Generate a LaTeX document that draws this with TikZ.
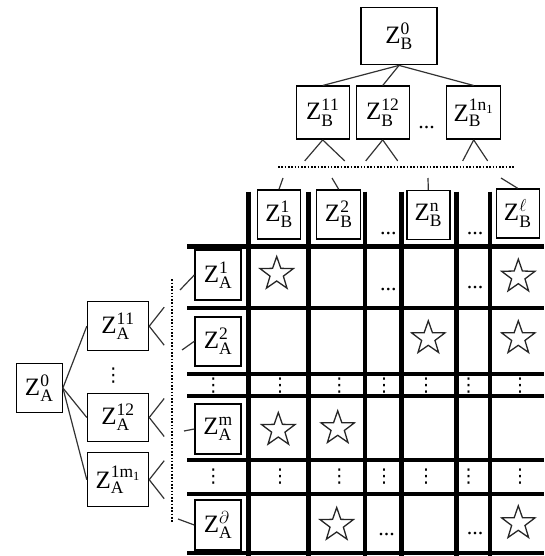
\documentclass[tikz,border=0pt]{standalone}
\usepackage{fontspec}
\setmainfont{Liberation Serif}
\newfontfamily\djv{DejaVu Sans}
\usetikzlibrary{calc,shapes.geometric}
\newcommand{\vdt}{{\djv ⋮}}
\newcommand{\zz}[2]{$\mathrm{Z}^{\mathrm{#1}}_{\mathrm{#2}}$}
\tikzset{
  zbox/.style={draw,line width=1.4pt,inner sep=0pt,minimum width=46pt,minimum height=49pt,
    font=\fontsize{25}{28}\selectfont},
  br/.style={line width=1.2pt,black!80},
  gline/.style={line width=4.5pt},                          % thick table rule
  dln/.style={line width=2pt,dash pattern=on 1.6pt off 1.7pt},
  strn/.style={star,star points=5,star point ratio=2.5,draw,line width=1.3pt,black!85,
    minimum size=35pt,inner sep=0pt},                        % marked cell
  hdt/.style={inner sep=0pt,font=\fontsize{22}{22}\selectfont},
  vdots/.style={inner sep=0pt,font=\fontsize{19}{19}\selectfont},
}

\begin{document}
\begin{tikzpicture}[x=1pt,y=-1pt]
  \useasboundingbox (0,0) rectangle (544,556);
  % ---- table rules ----
  \foreach \x in {248.3,308.3,365,401.7,456.7,490}{
    \draw[gline] (\x,191.7) -- (\x,556);}
  \foreach \y in {246.7,308,374,396,460,494,553}{
    \draw[gline] (187.3,\y) -- (544,\y);}
  % ---- hierarchy of B ----
  \node[zbox,minimum width=76pt,minimum height=57pt] (zb0) at (399,36.2) {\zz{0}{B}};
  \node[zbox,minimum width=53pt,minimum height=53pt] (zb11) at (322.7,112.7) {\zz{11}{B}};
  \node[zbox,minimum width=53pt,minimum height=53pt] (zb12) at (382.7,112.7) {\zz{12}{B}};
  \node[zbox,minimum width=54pt,minimum height=53pt] (zb1n) at (473.7,112.7) {\zz{1n_1}{B}};
  \node[hdt] (bdt) at (426.7,128) {...};
  \foreach \n in {zb11,zb12,zb1n}{
    \draw[br] (zb0.south) -- (\n.north);}
  \foreach \n/\a/\b in {zb11/-18/22,zb12/-17/15,zb1n/-11/14}{
    \coordinate (\n-l) at ($(\n.south)+(\a,21)$);
    \coordinate (\n-r) at ($(\n.south)+(\b,21)$);
    \draw[br] (\n.south) -- (\n-l);
    \draw[br] (\n.south) -- (\n-r);}
  \coordinate (dl) at (278,166.7);
  \coordinate (dr) at (515,166.7);
  \draw[dln] (dl) -- (dr);
  % column heads
  \node[zbox,minimum width=43pt] (zb1) at (279,214.5) {\zz{1}{B}};
  \node[zbox,minimum width=44pt] (zb2) at (338.7,214.5) {\zz{2}{B}};
  \node[zbox,minimum width=43pt] (zbn) at (428.3,215.2) {\zz{n}{B}};
  \node[zbox,minimum width=43pt] (zbl) at (517.7,213.5) {$\mathrm{Z}^{\ell}_{\mathrm{B}}$};
  \foreach \n/\x in {zb1/283,zb2/332,zbn/428,zbl/501}{
    \coordinate (\n-t) at (\x,178);
    \draw[br] (\n-t) -- (\n.north);}
  % ---- hierarchy of A ----
  \node[zbox] (za0) at (39.2,388) {\zz{0}{A}};
  \node[zbox,minimum width=61pt] (za11) at (118,326.2) {\zz{11}{A}};
  \node[zbox,minimum width=61pt,minimum height=48pt] (za12) at (118,417.5) {\zz{12}{A}};
  \node[zbox,minimum width=61pt,minimum height=54pt] (za1m) at (118,479.7) {\zz{1m_1}{A}};
  \node[vdots] (adt) at (113.3,376) {\vdt};
  \foreach \n in {za11,za12,za1m}{
    \draw[br] (za0.east) -- (\n.west);
    \coordinate (\n-u) at ($(\n.east)+(15,-19)$);
    \coordinate (\n-d) at ($(\n.east)+(15,19)$);
    \draw[br] (\n.east) -- (\n-u);
    \draw[br] (\n.east) -- (\n-d);}
  \coordinate (dt) at (172,279.3);
  \coordinate (db) at (172,523.3);
  \draw[dln] (dt) -- (db);
  % row heads
  \node[zbox,minimum height=50pt] (za1) at (218,275) {\zz{1}{A}};
  \node[zbox] (za2) at (218,341.3) {\zz{2}{A}};
  \node[zbox,minimum height=50pt] (zam) at (218,429) {\zz{m}{A}};
  \node[zbox,minimum height=50pt] (zad) at (218,525) {$\mathrm{Z}^{\partial}_{\mathrm{A}}$};
  \foreach \n/\x/\y in {za1/180/290,za2/182/350,zam/184/431,zad/178/519}{
    \coordinate (\n-s) at (\x,\y);
    \draw[br] (\n-s) -- (\n.west);}
  % ---- cells ----
  \foreach \x/\y [count=\i] in {276.7/274,518.3/276.7,428.3/338.3,518.3/338.3,
      278.3/430,337.7/428.3,336.7/525,518.3/523.3}{
    \node[strn] (s\i) at (\x,\y) {};}
  \foreach \x/\y [count=\i] in {388.3/233.3,475/233.3,388.3/290,475/288,386.7/535,475/533.3}{
    \node[hdt] (h\i) at (\x,\y) {...};}
  \foreach \y [count=\j] in {386,477}{
    \foreach \x [count=\i] in {213.3,280,339.3,384,426,468.7,520}{
      \node[vdots] (v\j-\i) at (\x,\y) {\vdt};}}
\end{tikzpicture}
\end{document}
